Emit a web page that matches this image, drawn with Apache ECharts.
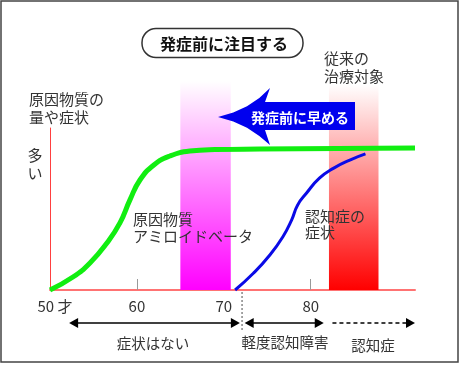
<!DOCTYPE html>
<html><head><meta charset="utf-8">
<script src="https://cdn.jsdelivr.net/npm/echarts@6/dist/echarts.min.js"></script>
<style>html,body{margin:0;padding:0;background:#fff}#c{width:459px;height:365px}</style>
</head><body><div id="c"></div>
<script>
const FONT = '"Noto Sans CJK JP", sans-serif';
// ages (x) and amounts (y, 0-100)
const amyloidAge = [50, 52.64, 54.6, 56.55, 58.05, 59.2, 60.35, 61.95, 63.8, 66.1, 68.97, 74.14, 92];
const amyloidVal = [0, 8.0, 16.7, 29.0, 41.4, 55.6, 67.9, 77.2, 82.7, 85.8, 86.7, 87.0, 87.7];
const symptomAge = [71.3, 73.4, 75.3, 76.8, 77.8, 78.5, 79.5, 81.0, 82.6, 84.5, 86.3];
const symptomVal = [0, 10.3, 21.6, 32.9, 43.2, 52.5, 59.7, 69.0, 75.1, 80.2, 84.0];
// bands: [start age, end age, top value]
const bandPreonset = [65.0, 70.8, 129];
const bandConventional = [82.1, 87.8, 127];
const tickLabels = [50, 60, 70, 80];
const tickMarks = [60, 70, 80];
// stage ranges along the age axis
const stageNone = [52.2, 71.85];
const stageMCI = [72.4, 81.5];
const stageDementia = [82.5, 92];
const stageBoundary = 72.1;

const chart = echarts.init(document.getElementById('c'), null, {renderer: 'canvas'});
const zip = (a, b) => a.map((v, i) => [v, b[i]]);

function bandItem(colorEnd) {
  return function (params, api) {
    const p0 = api.coord([api.value(0), api.value(2)]);
    const p1 = api.coord([api.value(1), 0]);
    return {
      type: 'rect',
      shape: {x: p0[0], y: p0[1], width: p1[0] - p0[0], height: p1[1] - p0[1]},
      style: {fill: new echarts.graphic.LinearGradient(0, 0, 0, 1, [
        {offset: 0, color: '#ffffff'}, {offset: 1, color: colorEnd}])}
    };
  };
}

chart.setOption({
  animation: false,
  grid: {left: 50, right: 44, top: 128, bottom: 75},
  xAxis: {
    type: 'value', min: 50, max: 92,
    axisLine: {show: true, lineStyle: {color: '#ff7373', width: 2}},
    axisTick: {show: true, inside: true, length: 11, customValues: tickMarks, lineStyle: {color: '#999', width: 1}},
    axisLabel: {customValues: tickLabels, margin: 9, color: '#333', fontSize: 15, fontFamily: FONT,
      formatter: v => v === 50 ? '{a|50 才}' : String(v),
      rich: {a: {padding: [0, 0, 0, 10], fontSize: 15, fontFamily: FONT, color: '#333'}}},
    splitLine: {show: false}
  },
  yAxis: {
    type: 'value', min: 0, max: 100,
    axisLine: {show: true, lineStyle: {color: '#ff4040', width: 1}},
    axisTick: {show: false}, axisLabel: {show: false}, splitLine: {show: false}
  },
  series: [
    {type: 'custom', z: 1, clip: false, renderItem: bandItem('#ff00ff'), data: [bandPreonset], silent: true},
    {type: 'custom', z: 1, clip: false, renderItem: bandItem('#ff0000'), data: [bandConventional], silent: true},
    {type: 'line', z: 3, smooth: 0.5, showSymbol: false, clip: false,
      lineStyle: {color: '#11ee11', width: 5}, data: zip(amyloidAge, amyloidVal)},
    {type: 'line', z: 3, smooth: 0.5, showSymbol: false, clip: false,
      lineStyle: {color: '#0a0ae6', width: 3}, data: zip(symptomAge, symptomVal)}
  ]
});

const px = a => chart.convertToPixel({gridIndex: 0}, [a, 0])[0];
const axisY = chart.convertToPixel({gridIndex: 0}, [50, 0])[1];
const arrowY = 323;

function txt(x, y, s, opts) {
  return {type: 'text', z: 10, style: Object.assign({x: x, y: y, text: s, fill: '#333',
    font: '15px ' + FONT, textVerticalAlign: 'middle', textAlign: 'left'}, opts || {})};
}
function head(x, y, dir) {
  return {type: 'polygon', z: 10, shape: {points: [[x, y], [x - dir * 9, y - 5], [x - dir * 9, y + 5]]}, style: {fill: '#000'}};
}
function hline(x0, x1, dashed) {
  return {type: 'line', z: 10, shape: {x1: x0, y1: arrowY, x2: x1, y2: arrowY},
    style: {stroke: '#000', lineWidth: 1.3, lineDash: dashed ? [4, 3] : null}};
}

const g = [];
g.push({type: 'rect', z: 0, shape: {x: 1, y: 1, width: 457, height: 361}, style: {fill: null, stroke: '#444', lineWidth: 1.5}});
// title box
g.push({type: 'rect', z: 10, shape: {x: 142, y: 28.5, width: 161, height: 29, r: 14}, style: {fill: '#fff', stroke: '#333', lineWidth: 1.5}});
g.push(txt(224, 43.5, '発症前に注目する', {font: 'bold 16px ' + FONT, textAlign: 'center', fill: '#111'}));
// y label
g.push(txt(29, 99, '原因物質の'));
g.push(txt(29, 117, '量や症状'));
g.push(txt(35, 155, '多', {textAlign: 'center'}));
g.push(txt(35, 173, 'い', {textAlign: 'center'}));
g.push(txt(324, 58, '従来の'));
g.push(txt(324, 76, '治療対象'));
g.push(txt(133, 219, '原因物質'));
g.push(txt(133, 236, 'アミロイドベータ'));
g.push(txt(305, 216, '認知症の'));
g.push(txt(305, 232, '症状'));
// blue arrow
g.push({type: 'polygon', z: 10, shape: {points: [
  [218, 117], [233.3, 112.6], [247, 106.3], [259.3, 98.1], [270, 88], [265, 102], [355, 102],
  [355, 130], [265, 130], [270, 145], [259.3, 136], [247, 127.8], [233.3, 121.4]]},
  style: {fill: '#0000ee'}});
g.push(txt(300, 117.5, '発症前に早める', {font: 'bold 14px ' + FONT, fill: '#fff', textAlign: 'center'}));
// stage boundary
const bx = px(stageBoundary);
g.push({type: 'line', z: 10, shape: {x1: bx, y1: axisY + 2, x2: bx, y2: 332}, style: {stroke: '#888', lineWidth: 1.5, lineDash: [2, 2]}});
// stage arrows
let a0 = px(stageNone[0]), a1 = px(stageNone[1]);
g.push(hline(a0 + 4, a1 - 4, false), head(a0, arrowY, -1), head(a1, arrowY, 1));
g.push(txt(153, 343, '症状はない', {font: '14.5px ' + FONT, textAlign: 'center'}));
a0 = px(stageMCI[0]); a1 = px(stageMCI[1]);
g.push(hline(a0 + 4, a1 - 4, false), head(a0, arrowY, -1), head(a1, arrowY, 1));
g.push(txt(285, 342, '軽度認知障害', {font: '14.5px ' + FONT, textAlign: 'center'}));
a0 = px(stageDementia[0]); a1 = px(stageDementia[1]);
g.push(hline(a0, a1 - 4, true), head(a1, arrowY, 1));
g.push(txt(373, 345, '認知症', {font: '14.5px ' + FONT, textAlign: 'center'}));

chart.setOption({graphic: g});
</script></body></html>
